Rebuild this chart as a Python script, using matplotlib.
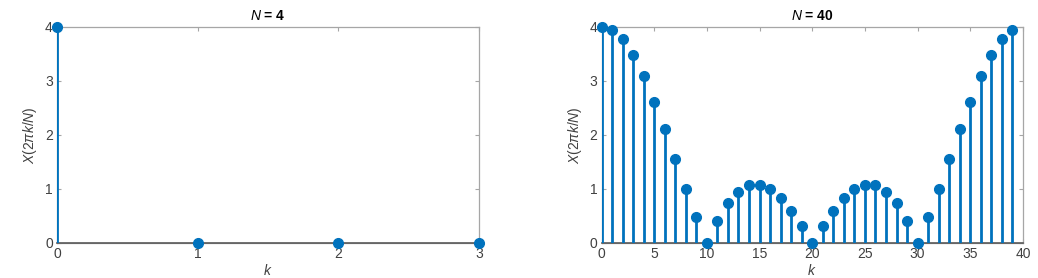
"""
Stem plots of the DFT magnitude of a length-4 pulse for N = 4 and N = 40.
"""

import matplotlib

matplotlib.use("Agg")
import matplotlib.pyplot as plt  # noqa: E402

plt.rcParams["font.family"] = ["Liberation Sans", "DejaVu Sans"]
plt.rcParams["mathtext.fontset"] = "custom"
plt.rcParams["mathtext.it"] = "Liberation Sans:italic"
plt.rcParams["mathtext.rm"] = "Liberation Sans"
plt.rcParams["mathtext.bf"] = "Liberation Sans:bold"

# N = 4
k_4 = [0, 1, 2, 3]
mag_4 = [4.0, 0.0, 0.0, 0.0]

# N = 40
k_40 = list(range(40))
mag_40 = [
    4.00, 3.94, 3.76, 3.47, 3.08, 2.61, 2.10, 1.55, 1.00, 0.48,
    0.00, 0.41, 0.73, 0.95, 1.07, 1.08, 1.00, 0.83, 0.60, 0.31,
    0.00, 0.31, 0.60, 0.83, 1.00, 1.08, 1.07, 0.95, 0.73, 0.41,
    0.00, 0.48, 1.00, 1.55, 2.10, 2.61, 3.08, 3.47, 3.76, 3.94,
]

panels = [
    (k_4, mag_4, "N = 4", (0, 3), [0, 1, 2, 3]),
    (k_40, mag_40, "N = 40", (0, 40), [0, 5, 10, 15, 20, 25, 30, 35, 40]),
]

BLUE = "#0072BD"
FRAME = "#a6a6a6"
TEXT = "#404040"

fig = plt.figure(figsize=(10.38, 2.78), dpi=100)
rects = [
    [57 / 1038, 1 - 243 / 278, (479 - 57) / 1038, (243 - 26.5) / 278],
    [601.5 / 1038, 1 - 243 / 278, (1023 - 601.5) / 1038, (243 - 26.5) / 278],
]

for rect, (k, mag, title, xlim, xticks) in zip(rects, panels):
    ax = fig.add_axes(rect)
    markerline, stemlines, baseline = ax.stem(k, mag, basefmt=" ")
    markerline.set_color(BLUE)
    markerline.set_markersize(7)
    markerline.set_zorder(4)
    stemlines.set_color(BLUE)
    stemlines.set_linewidth(2.0)
    stemlines.set_zorder(3)
    ax.axhline(0, color="#5a5a5a", linewidth=1.2, zorder=2)

    ax.set_xlim(*xlim)
    ax.set_ylim(0, 4)
    ax.set_xticks(xticks)
    ax.set_yticks([0, 1, 2, 3, 4])
    ax.tick_params(direction="in", length=3, width=0.8, colors=FRAME,
                   labelcolor=TEXT, labelsize=10, top=True, right=True, pad=3)
    for sp in ax.spines.values():
        sp.set_color(FRAME)
        sp.set_linewidth(0.9)
    for sp in ax.spines.values():
        sp.set_zorder(1)

    n_val = title.split("= ")[1]
    ax.set_title(r"$\mathbf{\mathit{N}}$" + f" = {n_val}", fontsize=10,
                 fontweight="bold", color="black", pad=5)
    ax.set_xlabel(r"$\mathit{k}$", fontsize=10, color=TEXT, labelpad=1)
    ax.set_ylabel(r"$\mathit{X}$(2$\pi$$\mathit{k}$/$\mathit{N}$)", fontsize=10,
                  color=TEXT, labelpad=4)
    for m in ax.lines:
        m.set_clip_on(False)

fig.savefig("out.png", dpi=100)
plt.close(fig)
